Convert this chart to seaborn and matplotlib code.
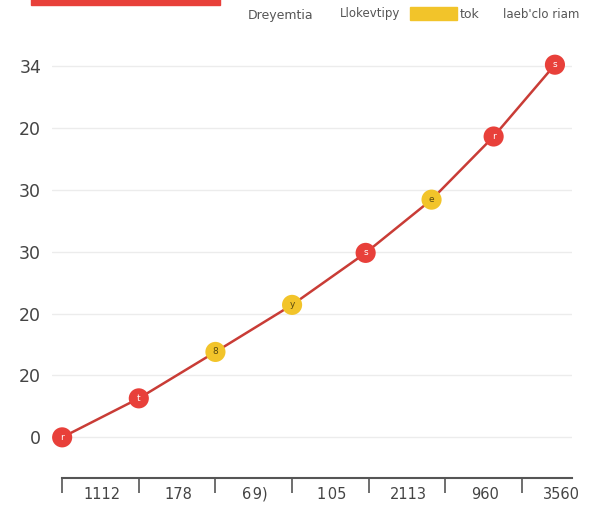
import numpy as np
import pandas as pd
import matplotlib
matplotlib.use('Agg')
import matplotlib.pyplot as plt
import seaborn as sns
from matplotlib.patches import Rectangle

# data
x_pos = [0, 1, 2, 3, 3.96, 4.82, 5.63, 6.43]
y_val = [0, 0.63, 1.38, 2.14, 2.98, 3.84, 4.86, 6.02]
group = ['r', 'r', 'y', 'y', 'r', 'y', 'r', 'r']
point_text = ['r', 't', '8', 'y', 's', 'e', 'r', 's']
y_ticks = [0, 1, 2, 3, 4, 5, 6]
y_labels = ['0', '20', '20', '30', '30', '20', '34']
x_labels = ['1112', '178', '6\u200a9)', '1\u200a05', '2113', '960', '3560']

df = pd.DataFrame({'x': x_pos, 'y': y_val, 'g': group})

sns.set_theme(style='white')
plt.rcParams['font.family'] = ['DejaVu Sans']

fig = plt.figure(figsize=(6, 5.12), dpi=100)
ax = fig.add_axes([0.087, 0.066, 0.866, 0.856])

sns.lineplot(data=df, x='x', y='y', color='#c93c36', linewidth=1.8, ax=ax, zorder=2)
sns.scatterplot(data=df, x='x', y='y', hue='g',
                palette={'r': '#e8403a', 'y': '#f2c42a'},
                s=210, edgecolor='none', legend=False, ax=ax, zorder=3)
for xx, yy, t, g in zip(x_pos, y_val, point_text, group):
    ax.text(xx, yy, t, ha='center', va='center', fontsize=6.5,
            color='white' if g == 'r' else '#5a4a10', zorder=4)

ax.set_xlim(-0.13, 6.65)
ax.set_ylim(-0.66, 6.42)
ax.set_yticks(y_ticks)
ax.set_yticklabels(y_labels)
ax.grid(axis='y', color='#ececec', linewidth=1)
ax.tick_params(axis='y', length=0, labelsize=12.5, labelcolor='#444444', pad=8)

ax.set_xticks(range(7))
ax.set_xticklabels([])
ax.set_xticks([i + 0.52 for i in range(7)], minor=True)
ax.set_xticklabels(x_labels, minor=True)
ax.tick_params(axis='x', which='major', bottom=True, length=11, width=1.2,
               color='#555555', direction='out')
ax.tick_params(axis='x', which='minor', bottom=True, length=0, labelsize=10.5,
               labelcolor='#444444', pad=6)

for s in ['top', 'right', 'left']:
    ax.spines[s].set_visible(False)
ax.spines['bottom'].set_color('#555555')
ax.spines['bottom'].set_linewidth(1.5)
ax.spines['bottom'].set_bounds(0, 6.65)
ax.set_xlabel('')
ax.set_ylabel('')

# top header bar and legend-like texts
fig.patches.append(Rectangle((31 / 600, 1 - 5 / 512), 189 / 600, 8 / 512,
                             transform=fig.transFigure, color='#e8403a'))
fig.text(248 / 600, 1 - 16 / 512, 'Dreyemtia', fontsize=9, color='#555555', va='center')
fig.text(340 / 600, 1 - 14 / 512, 'Llokevtipy', fontsize=8.5, color='#555555', va='center')
fig.patches.append(Rectangle((410 / 600, 1 - 20 / 512), 47 / 600, 13 / 512,
                             transform=fig.transFigure, color='#f2c42a'))
fig.text(460 / 600, 1 - 14 / 512, 'tok', fontsize=9, color='#555555', va='center')
fig.text(503 / 600, 1 - 14 / 512, "laeb'clo riam", fontsize=8.5, color='#555555', va='center')

fig.savefig('out.png', dpi=100, facecolor='white')
